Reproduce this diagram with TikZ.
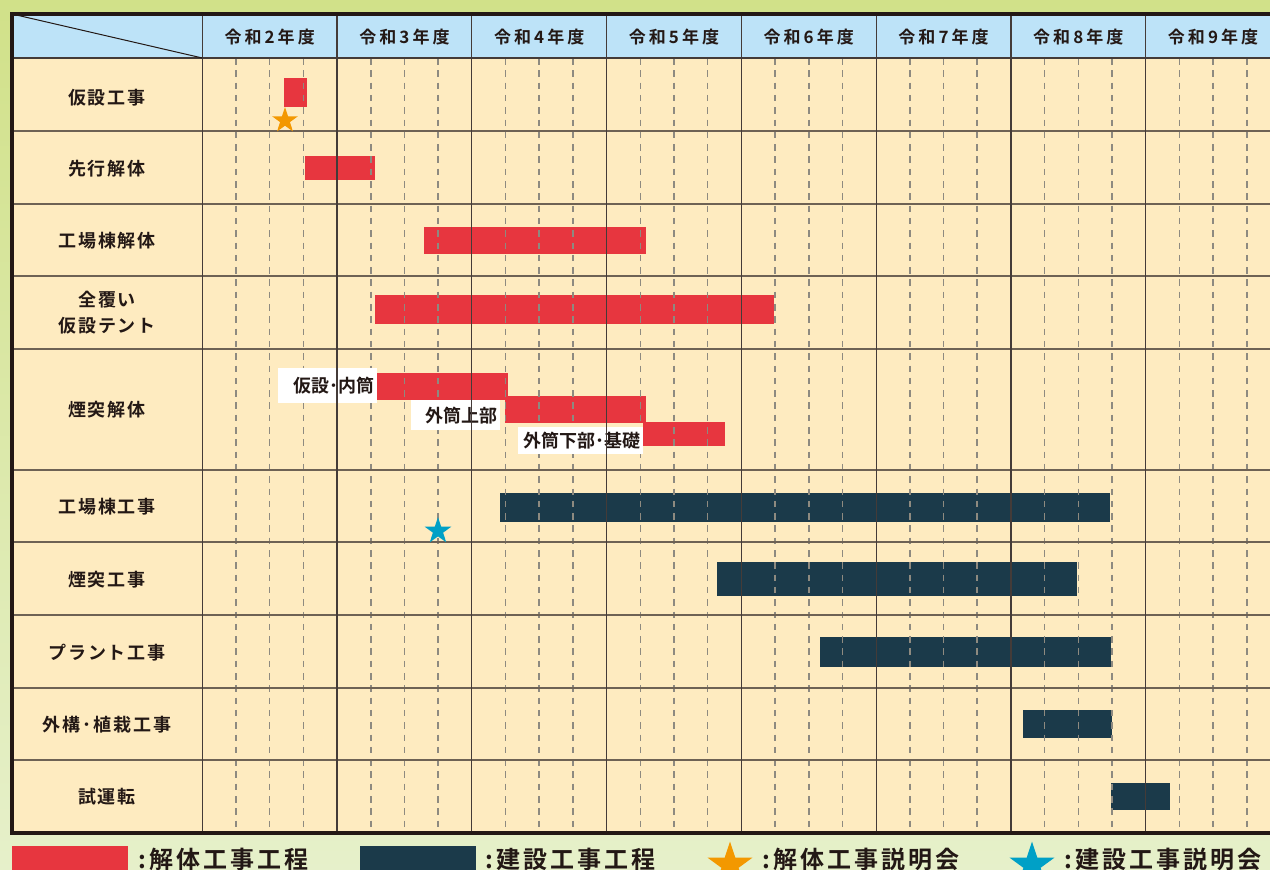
\documentclass[tikz,border=0pt]{standalone}
\usepackage{fontspec}
\setmainfont{Noto Sans CJK JP}[BoldFont={Noto Sans CJK JP Bold}]
\usetikzlibrary{shapes.geometric}

\definecolor{bgtop}{HTML}{D1E189}
\definecolor{bgbottom}{HTML}{E6F0CA}
\definecolor{headblue}{HTML}{BDE3F8}
\definecolor{cellcream}{HTML}{FEEBC0}
\definecolor{demored}{HTML}{E7363F}
\definecolor{buildnavy}{HTML}{1B3A4A}
\definecolor{starorange}{HTML}{F39800}
\definecolor{starblue}{HTML}{00A0C6}
\definecolor{ink}{HTML}{231815}
\definecolor{rulegray}{HTML}{6E6254}
\definecolor{dashgray}{HTML}{8E8A80}

\newcommand{\yearfont}{\fontsize{17}{20}\selectfont\bfseries\addfontfeature{LetterSpace=18}}
\newcommand{\taskfont}{\fontsize{18}{26}\selectfont\bfseries\addfontfeature{LetterSpace=11}}
\newcommand{\barfont}{\fontsize{18}{20}\selectfont\bfseries}
\newcommand{\legendfont}{\fontsize{24}{26}\selectfont\bfseries\addfontfeature{LetterSpace=13}}

\tikzset{
  yearlabel/.style={font=\yearfont, text=ink, inner sep=0pt},
  tasklabel/.style={font=\taskfont, text=ink, align=center, inner sep=0pt},
  barlabel/.style={fill=white, font=\barfont, text=ink, align=right, inner xsep=3pt, inner ysep=0pt, anchor=north west},
  redbar/.style={fill=demored},
  navybar/.style={fill=buildnavy},
  yearline/.style={draw=ink!85, line width=1.3pt},
  rowline/.style={draw=rulegray, line width=1.5pt},
  quarterline/.style={draw=dashgray, line width=1.6pt, dash pattern=on 6.5pt off 5.8pt},
  event/.style={star, star points=5, star point ratio=2.6, inner sep=0pt, minimum size=#1},
  legendtext/.style={font=\legendfont, text=ink, anchor=west, inner sep=0pt},
}

\begin{document}
\begin{tikzpicture}[x=1pt, y=-1pt]
  \clip (0,0) rectangle (1270,870);
  \shade[top color=bgtop, bottom color=bgbottom] (0,0) rectangle (1270,870);
  \fill[cellcream] (12,14) rectangle (1290,833);
  \fill[headblue] (12,14) rectangle (1290,58);

  \fill[redbar] (284,78) rectangle (307,107);
  \fill[redbar] (305,156) rectangle (375,180);
  \fill[redbar] (424,227) rectangle (646,254);
  \fill[redbar] (375,295) rectangle (774,324);
  \fill[redbar] (377,373) rectangle (508,400);
  \fill[redbar] (505,396) rectangle (646,422.5);
  \fill[redbar] (643,422) rectangle (725,446);

  \fill[navybar] (500,493) rectangle (1110,522);
  \fill[navybar] (717,562) rectangle (1077,596);
  \fill[navybar] (820,637) rectangle (1111,667);
  \fill[navybar] (1023,710) rectangle (1112,738);
  \fill[navybar] (1111,783) rectangle (1170,810);

  \foreach \k in {0,...,8}
    \foreach \q in {1,2,3}
      \draw[quarterline] ({202.3+134.77*(\k+\q/4)},58) -- ++(0,775);

  \node[barlabel, text width=93pt, minimum height=35pt] (innerlabel) at (278,368) {仮設･内筒};
  \node[barlabel, text width=83pt, minimum height=30pt] (upperlabel) at (411,400) {外筒上部};
  \node[barlabel, text width=119pt, minimum height=27.5pt] (lowerlabel) at (518,426.5) {外筒下部･基礎};

  \foreach \y in {131,204,276,349,470,542,615,688,760}
    \draw[rowline] (12,\y) -- (1290,\y);
  \foreach \k in {0,...,8}
    \draw[yearline] ({202.3+134.77*\k},14) -- ++(0,819);
  \draw[yearline] (12,58) -- (1290,58);
  \draw[ink, line width=1pt] (12,14) -- (202.3,58);
  \draw[ink, line width=4pt] (12,14) rectangle (1290,833);

  \foreach \n [count=\k from 0] in {2,...,9}
    \node[yearlabel] (year\n) at ({202.3+134.77*(\k+0.5)},37) {令和\n{}年度};

  \foreach \y/\t [count=\i] in {97.5/仮設工事, 168.5/先行解体, 240.5/工場棟解体, 312.5/{全覆い\\仮設テント},
      410/煙突解体, 507/工場棟工事, 580/煙突工事, 653/プラント工事, 725/外構･植栽工事, 797/試運転}
    \node[tasklabel] (task\i) at (107,\y) {\t};

  \node[event=27pt, fill=starorange] (demobrief) at (285,120.5) {};
  \node[event=28pt, fill=starblue] (buildbrief) at (438,531) {};

  \fill[redbar] (12,846) rectangle (128,875);
  \node[legendtext] (legdemo) at (138,859) {:解体工事工程};
  \fill[navybar] (360,846) rectangle (476,875);
  \node[legendtext] (legbuild) at (485,859) {:建設工事工程};
  \node[event=47pt, fill=starorange] (legdemostar) at (730,865) {};
  \node[legendtext] (legdemobrief) at (762,859) {:解体工事説明会};
  \node[event=47pt, fill=starblue] (legbuildstar) at (1032,865) {};
  \node[legendtext] (legbuildbrief) at (1064,859) {:建設工事説明会};
\end{tikzpicture}
\end{document}
